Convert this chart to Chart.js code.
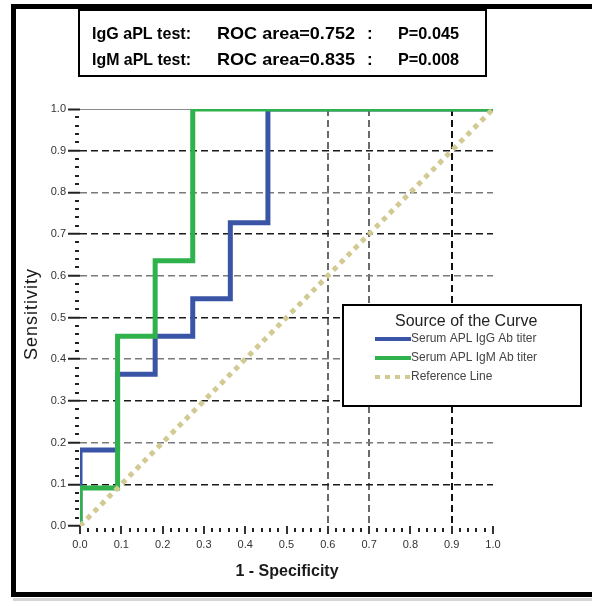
<!DOCTYPE html>
<html>
<head>
<meta charset="utf-8">
<script src="https://cdn.jsdelivr.net/npm/chart.js@4/dist/chart.umd.min.js"></script>
<style>
  html, body { margin: 0; padding: 0; background: #fff; }
  #wrap { width: 592px; height: 606px; position: relative; }
</style>
</head>
<body>
<div id="wrap"><canvas id="c" width="592" height="606"></canvas></div>
<script>
// ---- data ----
const iggFpr = [0, 0, 0.091, 0.091, 0.182, 0.182, 0.273, 0.273, 0.364, 0.364, 0.455, 0.455, 1];
const iggTpr = [0, 0.182, 0.182, 0.364, 0.364, 0.455, 0.455, 0.545, 0.545, 0.727, 0.727, 1, 1];
const igmFpr = [0, 0, 0.091, 0.091, 0.182, 0.182, 0.273, 0.273, 1];
const igmTpr = [0, 0.091, 0.091, 0.455, 0.455, 0.636, 0.636, 1, 1];
const refX = [0, 1];
const refY = [0, 1];
const seriesLabels = ['Serum APL IgG Ab titer', 'Serum APL IgM Ab titer', 'Reference Line'];
const legendTitle = 'Source of the Curve';
const xAxisTitle = '1 - Specificity';
const yAxisTitle = 'Sensitivity';
const statRows = [
  ['IgG aPL test:', 'ROC area=0.752', ':', 'P=0.045'],
  ['IgM aPL test:', 'ROC area=0.835', ':', 'P=0.008']
];
const tickValues = [0, 0.1, 0.2, 0.3, 0.4, 0.5, 0.6, 0.7, 0.8, 0.9, 1.0];

const pts = (xs, ys) => xs.map((x, i) => ({ x: x, y: ys[i] }));

const COLORS = { igg: '#3a54a6', igm: '#2fb14b', ref: '#d2ca92' };
const FONT = "'Liberation Sans', Arial, sans-serif";
Chart.defaults.font.family = FONT;

const r10 = v => Math.round(v * 10);

const decor = {
  id: 'decor',
  beforeDraw(chart) {
    const ctx = chart.ctx;
    ctx.save();
    ctx.fillStyle = '#fff';
    ctx.fillRect(0, 0, chart.width, chart.height);
    ctx.restore();
  },
  afterDraw(chart) {
    const ctx = chart.ctx;
    const xs = chart.scales.x, ys = chart.scales.y;
    const a = chart.chartArea;
    ctx.save();
    // minor ticks
    ctx.fillStyle = '#222';
    for (let i = 1; i < 50; i++) {
      if (i % 5 === 0) continue;
      const v = i / 50;
      const py = ys.getPixelForValue(v);
      ctx.fillRect(a.left - 5, Math.round(py) - 1, 4, 2);
      const px = xs.getPixelForValue(v);
      ctx.fillRect(Math.round(px) - 1, a.bottom + 2, 2, 4);
    }
    // frame
    ctx.fillStyle = '#000';
    ctx.fillRect(11, 4, 581, 5);
    ctx.fillRect(11, 4, 5, 593);
    ctx.fillRect(11, 592, 581, 5);
    ctx.fillStyle = '#d4d4d4';
    ctx.fillRect(13, 598, 579, 3);

    // stats box
    ctx.fillStyle = '#fff';
    ctx.fillRect(78, 10, 409, 67);
    ctx.strokeStyle = '#000';
    ctx.lineWidth = 2;
    ctx.strokeRect(79, 10, 407, 66);
    ctx.fillStyle = '#000';
    ctx.font = 'bold 17px ' + FONT;
    ctx.textBaseline = 'alphabetic';
    ctx.textAlign = 'left';
    const colX = [92, 217, 367, 398];
    const colW = [99, 138, 6, 61];
    const rowY = [39, 65];
    statRows.forEach((row, ri) => {
      row.forEach((t, ci) => {
        const w = ctx.measureText(t).width;
        ctx.save();
        ctx.translate(colX[ci], rowY[ri]);
        if (ci !== 2) ctx.scale(colW[ci] / w, 1);
        ctx.fillText(t, 0, 0);
        ctx.restore();
      });
    });

    // axis titles
    ctx.fillStyle = '#1a1a1a';
    ctx.font = 'bold 16px ' + FONT;
    ctx.textAlign = 'center';
    ctx.textBaseline = 'middle';
    ctx.fillText(xAxisTitle, 287, 572);
    ctx.save();
    ctx.translate(32, 314);
    ctx.rotate(-Math.PI / 2);
    ctx.font = '18px ' + FONT;
    try { ctx.letterSpacing = '1px'; } catch (e) {}
    ctx.fillText(yAxisTitle, 0, 0);
    ctx.restore();

    // legend box
    ctx.fillStyle = '#fff';
    ctx.fillRect(342, 304, 240, 103);
    ctx.strokeStyle = '#000';
    ctx.lineWidth = 2;
    ctx.strokeRect(343, 305, 238, 101);
    ctx.fillStyle = '#222';
    ctx.font = '16px ' + FONT;
    ctx.textAlign = 'left';
    ctx.textBaseline = 'middle';
    ctx.fillText(legendTitle, 395, 322);
    const itemY = [339, 358, 377];
    chart.data.datasets.forEach((ds) => {
      const idx = seriesLabels.indexOf(ds.label);
      const y = itemY[idx];
      ctx.save();
      ctx.strokeStyle = ds.borderColor;
      ctx.lineWidth = 4;
      ctx.setLineDash(ds.borderDash || []);
      ctx.beginPath();
      ctx.moveTo(375, y);
      ctx.lineTo(411, y);
      ctx.stroke();
      ctx.restore();
      ctx.fillStyle = '#444';
      ctx.font = '12px ' + FONT;
      ctx.fillText(ds.label, 411, y);
    });
    ctx.restore();
  }
};

new Chart(document.getElementById('c'), {
  type: 'line',
  data: {
    datasets: [
      { label: seriesLabels[2], data: pts(refX, refY), borderColor: COLORS.ref, borderWidth: 5,
        borderDash: [5, 5], order: 0 },
      { label: seriesLabels[1], data: pts(igmFpr, igmTpr), borderColor: COLORS.igm, borderWidth: 5, order: 1 },
      { label: seriesLabels[0], data: pts(iggFpr, iggTpr), borderColor: COLORS.igg, borderWidth: 5, order: 2 }
    ]
  },
  options: {
    responsive: false,
    animation: false,
    layout: { padding: { left: 0, top: 109, right: 99, bottom: 0 } },
    elements: {
      point: { radius: 0 },
      line: { tension: 0, borderJoinStyle: 'miter', borderCapStyle: 'butt', fill: false }
    },
    plugins: { legend: { display: false }, tooltip: { enabled: false } },
    scales: {
      x: {
        type: 'linear', min: 0, max: 1,
        afterFit: s => { s.height = 80; },
        afterBuildTicks: s => { s.ticks = tickValues.map(v => ({ value: v })); },
        ticks: { callback: v => Number(v).toFixed(1), font: { size: 11 }, color: '#333', padding: 4, maxRotation: 0 },
        grid: {
          drawOnChartArea: true,
          color: c => {
            if (!c.tick) return 'rgba(0,0,0,0)';
            const v = r10(c.tick.value);
            if (v === 9) return '#111';
            if (v === 6 || v === 7) return '#6a6a6a';
            return 'rgba(0,0,0,0)';
          },
          lineWidth: 2,
          tickLength: 8,
          tickColor: '#333',
          tickWidth: 2
        },
        border: { display: false, dash: [7, 4] }
      },
      y: {
        type: 'linear', min: 0, max: 1,
        afterFit: s => { s.width = 80; },
        afterBuildTicks: s => { s.ticks = tickValues.map(v => ({ value: v })); },
        ticks: { callback: v => Number(v).toFixed(1), font: { size: 11 }, color: '#333', padding: 2 },
        grid: {
          color: c => {
            if (!c.tick) return 'rgba(0,0,0,0)';
            const v = r10(c.tick.value);
            if (v === 0) return 'rgba(0,0,0,0)';
            if (v === 10) return '#8a8a8a';
            if (v % 2 === 1) return '#1a1a1a';
            return '#7a7a7a';
          },
          lineWidth: c => (c.tick && r10(c.tick.value) === 10) ? 1 : 1.5,
          tickLength: 12,
          tickColor: '#222',
          tickWidth: 2
        },
        border: {
          display: false,
          dash: c => (c.tick && r10(c.tick.value) === 10) ? [] : [7, 4]
        }
      }
    }
  },
  plugins: [decor]
});
</script>
</body>
</html>
